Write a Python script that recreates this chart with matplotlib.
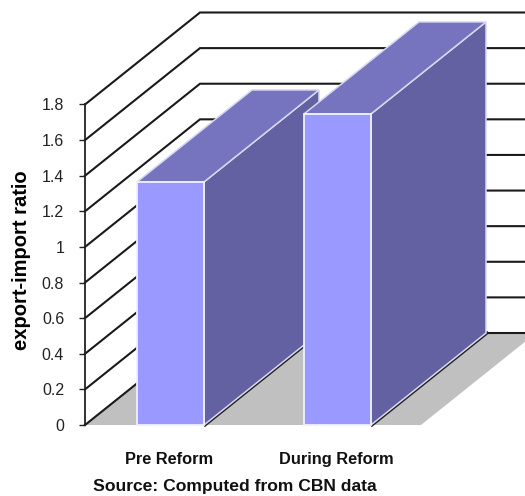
import numpy as np
import matplotlib
matplotlib.use("Agg")
import matplotlib.pyplot as plt
from matplotlib.patches import Polygon

plt.rcParams['font.family'] = ['Liberation Sans', 'DejaVu Sans']

categories = ["Pre Reform", "During Reform"]
ratios = [1.365, 1.747]
yticks = [0, 0.2, 0.4, 0.6, 0.8, 1, 1.2, 1.4, 1.6, 1.8]
yticklabels = ["0", "0.2", "0.4", "0.6", "0.8", "1", "1.2", "1.4", "1.6", "1.8"]

W, H = 525, 496
x0, y0, y18 = 85, 425, 104.5   # pixel position of the front axis
# depth of the 3d box, x in pixels, y in ratio units
DX = 115
DY = 92 / ((y0 - y18) / 1.8)
bar_left = [52, 219]
bar_w = 67

fig = plt.figure(figsize=(W / 100, H / 100), dpi=100)
ax = fig.add_axes([x0 / W, 1 - y0 / H, (W - x0) / W, (y0 - y18) / H])
ax.set_xlim(0, W - x0)
ax.set_ylim(0, 1.8)
for s in ['top', 'right', 'bottom']:
    ax.spines[s].set_visible(False)
ax.spines['left'].set_linewidth(1.3)
ax.spines['left'].set_color('#222222')
ax.set_yticks(yticks)
ax.set_yticklabels(yticklabels, fontsize=11.5, color='#222222')
ax.tick_params(axis='y', length=4, width=1, color='#222222', pad=11)
ax.set_ylabel("export-import ratio", fontsize=14.5, fontweight='bold')
ax.yaxis.set_label_coords(-0.122, 0.515)
ax.set_xticks([])
ax.patch.set_visible(False)

# floor
floor_w = 336
ax.add_patch(Polygon([(0, 0), (floor_w, 0), (floor_w + DX, DY), (DX, DY)],
                     closed=True, fc='#c0c0c0', ec='none', zorder=1, clip_on=False))

# grid on side wall and back wall
for t in yticks:
    ax.plot([0, DX, W - x0], [t, t + DY, t + DY], color='#1a1a1a', lw=1.5,
            zorder=2, solid_joinstyle='miter', clip_on=False)

# bars
for left, val in zip(bar_left, ratios):
    r = left + bar_w
    # dark shadow on the floor along the side face
    ax.plot([r + 1, r + DX + 1], [0, DY], color='#222222', lw=2.2, zorder=3, clip_on=False)
    ax.add_patch(Polygon([(r, 0), (r + DX, DY), (r + DX, val + DY), (r, val)],
                         closed=True, fc='#6361a1', ec='#d8d8f0', lw=1.1, zorder=4, clip_on=False))
    ax.add_patch(Polygon([(left, val), (r, val), (r + DX, val + DY), (left + DX, val + DY)],
                         closed=True, fc='#7674be', ec='#d8d8f0', lw=1.1, zorder=5, clip_on=False))
    ax.add_patch(Polygon([(left, 0), (r, 0), (r, val), (left, val)],
                         closed=True, fc='#9999ff', ec='#f0f0ff', lw=1.3, zorder=6, clip_on=False))

# category labels and source sit under the chart
for left, name in zip(bar_left, categories):
    ax.annotate(name, xy=(left + bar_w / 2, 0), xytext=(-1, -39), textcoords='offset pixels',
                ha='center', va='baseline', fontsize=11.8, fontweight='bold', color='#111111')
fig.text(235 / W, 1 - 487 / H, "Source: Computed from CBN data", ha='center', va='center',
         fontsize=12.6, fontweight='bold', color='#111111')

fig.savefig("out.png", dpi=100)
